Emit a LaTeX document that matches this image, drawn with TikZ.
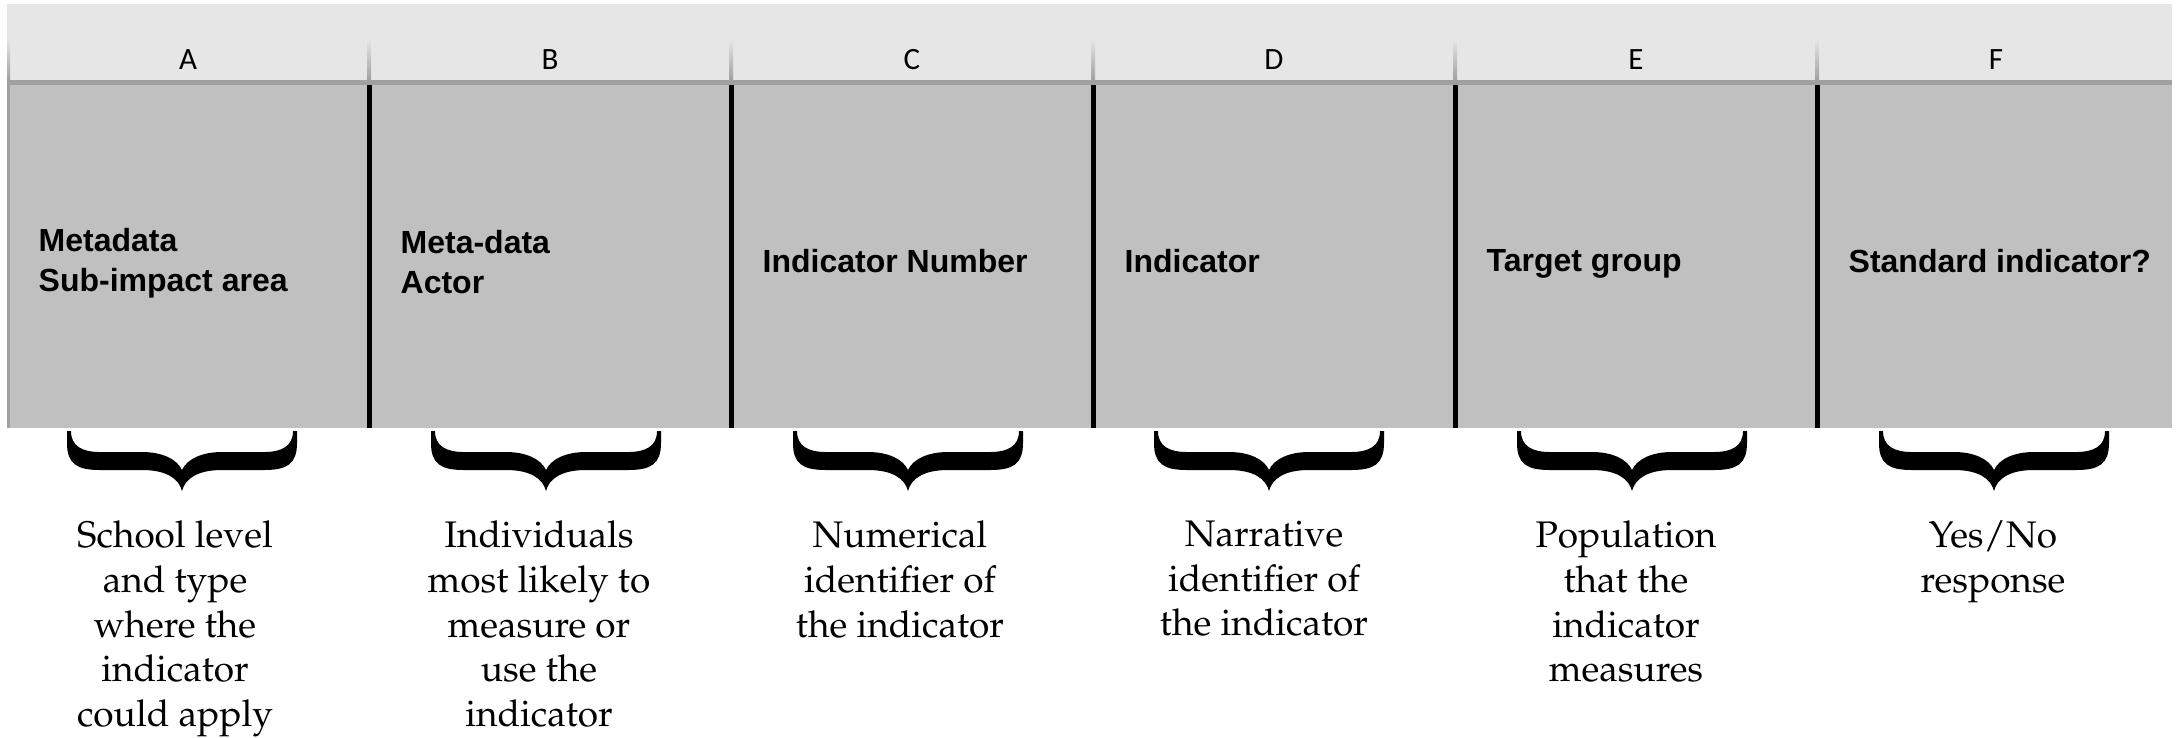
\documentclass[tikz,border=0pt]{standalone}
\usepackage[T1]{fontenc}
\usepackage{fontspec}
\setsansfont{Liberation Sans}
\newfontfamily\colfont{Carlito}
\newcommand\palfont{\fontencoding{T1}\fontfamily{ppl}\selectfont}
\definecolor{barlight}{HTML}{E6E6E6}
\definecolor{gridgray}{HTML}{A0A0A0}
\definecolor{cellgray}{HTML}{C0C0C0}
\tikzset{
  colletter/.style={font=\colfont\fontsize{9.3}{11}\selectfont, anchor=base, inner sep=0pt},
  cellhead/.style={font=\sffamily\bfseries\fontsize{9.6}{12}\selectfont, anchor=west, align=left, inner sep=0pt},
  explain/.style={font=\palfont\fontsize{11.1}{13.45}\selectfont, anchor=north, align=center, inner sep=0pt},
  curly/.pic={
    \fill (-115,0) -- (-115,12) .. controls (-115,33) and (-105,39) .. (-82,39)
      -- (-40,39) .. controls (-15,39) and (-3,48) .. (0,60)
      .. controls (3,48) and (15,39) .. (40,39) -- (82,39)
      .. controls (105,39) and (115,33) .. (115,12) -- (115,0) -- (111,0)
      .. controls (111,15) and (100,21) .. (82,21) -- (40,21)
      .. controls (20,21) and (5,28) .. (0,39)
      .. controls (-5,28) and (-20,21) .. (-40,21) -- (-82,21)
      .. controls (-100,21) and (-111,15) .. (-111,0) -- cycle;
  }
}
\begin{document}
\begin{tikzpicture}[x=0.3pt,y=-0.3pt]
\useasboundingbox (0,0) rectangle (2177,737);
% column bar
\fill[barlight] (7,4) rectangle (2172,80);
\fill[gridgray] (7,80) rectangle (2172,85);
\shade[top color=barlight, bottom color=gridgray] (7,39) rectangle (10,80);
\shade[top color=barlight, bottom color=gridgray] (367,39) rectangle (371,80);
\shade[top color=barlight, bottom color=gridgray] (729,39) rectangle (733,80);
\shade[top color=barlight, bottom color=gridgray] (1091,39) rectangle (1095,80);
\shade[top color=barlight, bottom color=gridgray] (1453,39) rectangle (1457,80);
\shade[top color=barlight, bottom color=gridgray] (1815,39) rectangle (1819,80);
\node[colletter] (colA) at (188,69) {A};
\node[colletter] (colB) at (550,69) {B};
\node[colletter] (colC) at (912,69) {C};
\node[colletter] (colD) at (1274,69) {D};
\node[colletter] (colE) at (1636,69) {E};
\node[colletter] (colF) at (1996,69) {F};
% header cells
\fill[cellgray] (7,85) rectangle (2172,428);
\fill[gridgray] (7,85) rectangle (10,428);
\fill (367,85) rectangle (372,428);
\fill (729,85) rectangle (734,428);
\fill (1091,85) rectangle (1096,428);
\fill (1453,85) rectangle (1458,428);
\fill (1815,85) rectangle (1820,428);
\node[cellhead] (headA) at (38,263) {Metadata\\Sub-impact area};
\node[cellhead] (headB) at (400,262) {Meta-data\\Actor};
\node[cellhead] (headC) at (762,261) {Indicator Number};
\node[cellhead] (headD) at (1124,261) {Indicator};
\node[cellhead] (headE) at (1486,264) {Target group};
\node[cellhead] (headF) at (1848,261) {Standard indicator?};
% braces
\pic at (182,431) {curly};
\pic at (546,431) {curly};
\pic at (908,431) {curly};
\pic at (1269,431) {curly};
\pic at (1632,431) {curly};
\pic at (1994,431) {curly};
% explanations
\node[explain] (textA) at (175,520) {School level\\and type\\where the\\indicator\\could apply};
\node[explain] (textB) at (539,520) {Individuals\\most likely to\\measure or\\use the\\indicator};
\node[explain] (textC) at (900,520) {Numerical\\identifier of\\the indicator};
\node[explain] (textD) at (1264,520) {Narrative\\identifier of\\the indicator};
\node[explain] (textE) at (1626,520) {Population\\that the\\indicator\\measures};
\node[explain] (textF) at (1993,520) {Yes/No\\response};
\end{tikzpicture}
\end{document}
